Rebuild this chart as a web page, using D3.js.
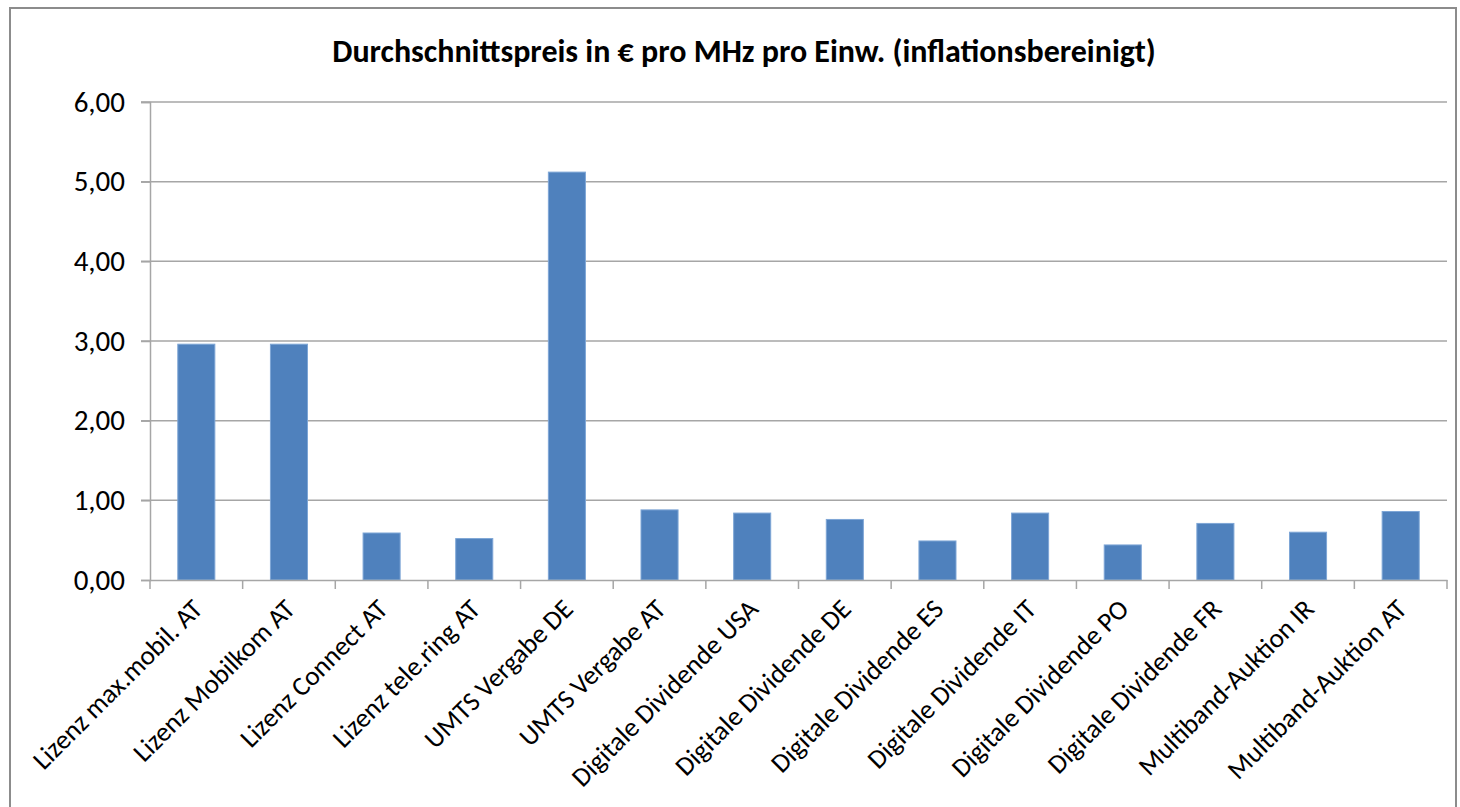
<!DOCTYPE html>
<html>
<head>
    <meta charset="utf-8">
    <title>Durchschnittspreis pro MHz pro Einw.</title>
    <script src="https://d3js.org/d3.v7.min.js"></script>
    <style>
        body { margin: 0; background: white; }
        .title { font-family: Carlito, Calibri, Lato, sans-serif; font-weight: bold; font-size: 32px; fill: #000; }
        .axis text { font-family: Carlito, Calibri, Lato, sans-serif; font-size: 29px; fill: #000; }
        .axis .xlab { font-size: 27px; }
        .axis path, .axis line { stroke: #a6a6a6; stroke-width: 1.5px; }
        .grid line { stroke: #a6a6a6; stroke-width: 1.5px; }
        .bar { fill: #4f81bd; stroke: #7ea6d6; stroke-width: 1px; }
    </style>
</head>
<body>
    <svg width="1460" height="807"></svg>
    <script>
        const categories = [
            "Lizenz max.mobil. AT", "Lizenz Mobilkom AT", "Lizenz Connect AT", "Lizenz tele.ring AT",
            "UMTS Vergabe DE", "UMTS Vergabe AT", "Digitale Dividende USA", "Digitale Dividende DE",
            "Digitale Dividende ES", "Digitale Dividende IT", "Digitale Dividende PO", "Digitale Dividende FR",
            "Multiband-Auktion IR", "Multiband-Auktion AT"
        ];
        const values = [2.96, 2.96, 0.59, 0.52, 5.12, 0.88, 0.84, 0.76, 0.49, 0.84, 0.44, 0.71, 0.60, 0.86];
        const yTicks = [0, 1, 2, 3, 4, 5, 6];

        const svg = d3.select("svg");
        const margin = { top: 102, right: 13, bottom: 227, left: 150 };
        const width = 1460 - margin.left - margin.right,
              height = 807 - margin.top - margin.bottom;

        // outer frame
        svg.append("rect")
            .attr("x", 10).attr("y", 8)
            .attr("width", 1446).attr("height", 810)
            .attr("fill", "none")
            .attr("stroke", "#8c8c8c")
            .attr("stroke-width", 2);

        svg.append("text")
            .attr("class", "title")
            .attr("x", 744)
            .attr("y", 62)
            .attr("text-anchor", "middle")
            .text("Durchschnittspreis in € pro MHz pro Einw. (inflationsbereinigt)");

        const g = svg.append("g").attr("transform", `translate(${margin.left},${margin.top})`);

        const x = d3.scaleBand()
            .domain(categories)
            .range([0, width])
            .paddingInner(0.6)
            .paddingOuter(0.3);

        const y = d3.scaleLinear().domain([0, 6]).range([height, 0]);

        const fmt = d => d3.format(".2f")(d).replace(".", ",");

        // gridlines
        g.append("g")
            .attr("class", "grid")
            .selectAll("line")
            .data(yTicks.filter(t => t > 0))
            .enter().append("line")
            .attr("x1", -9).attr("x2", width)
            .attr("y1", d => y(d)).attr("y2", d => y(d));

        // y axis
        g.append("g")
            .attr("class", "axis")
            .call(d3.axisLeft(y).tickValues(yTicks).tickFormat(fmt).tickSize(9).tickPadding(16));

        // bars
        g.append("g")
            .selectAll("rect")
            .data(values)
            .enter().append("rect")
            .attr("class", "bar")
            .attr("x", (d, i) => x(categories[i]))
            .attr("width", x.bandwidth())
            .attr("y", d => y(d))
            .attr("height", d => height - y(d));

        // x axis with boundary ticks
        const xAxis = g.append("g")
            .attr("class", "axis")
            .attr("transform", `translate(0,${height})`)
            .call(d3.axisBottom(x).tickSize(0).tickSizeOuter(0).tickPadding(0));

        xAxis.selectAll(".tick text")
            .attr("class", "xlab")
            .attr("text-anchor", "end")
            .attr("transform", "translate(1,24) rotate(-45)")
            .attr("dy", "0.35em");

        xAxis.selectAll("line.bound")
            .data(d3.range(categories.length + 1))
            .enter().append("line")
            .attr("class", "bound")
            .attr("x1", i => i * x.step())
            .attr("x2", i => i * x.step())
            .attr("y1", 0).attr("y2", 9)
            .attr("stroke", "#a6a6a6")
            .attr("stroke-width", 1.5);
    </script>
</body>
</html>
